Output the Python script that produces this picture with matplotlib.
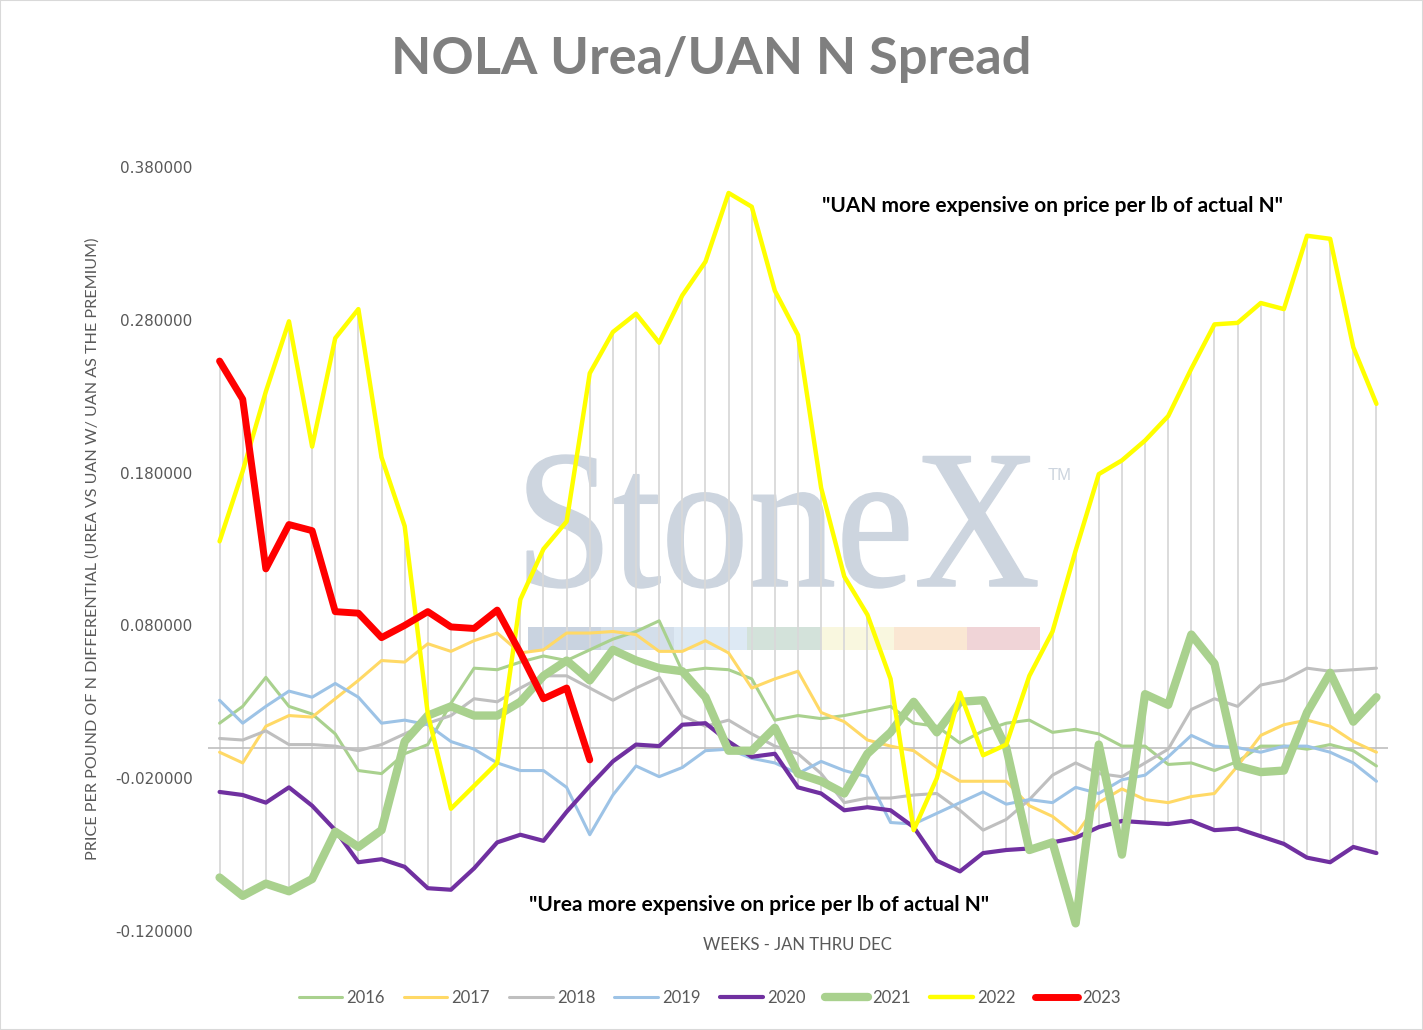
import numpy as np
import matplotlib
matplotlib.use("Agg")
import matplotlib.pyplot as plt
from matplotlib.textpath import TextPath
from matplotlib.patches import PathPatch, Rectangle
from matplotlib.font_manager import FontProperties
from matplotlib.transforms import Affine2D
from matplotlib.ticker import FixedLocator, FormatStrFormatter

# weekly N spread, $/lb
weeks = np.arange(51)

y2016 = [0.016, 0.027, 0.046, 0.027, 0.022, 0.009, -0.015, -0.017, -0.004, 0.002,
         0.029, 0.052, 0.051, 0.056, 0.060, 0.057, 0.064, 0.071, 0.076, 0.083,
         0.050, 0.052, 0.051, 0.045, 0.018, 0.021, 0.019, 0.021, 0.024, 0.027,
         0.016, 0.014, 0.003, 0.011, 0.016, 0.018, 0.010, 0.012, 0.009, 0.001,
         0.001, -0.011, -0.010, -0.015, -0.009, 0.001, 0.001, -0.001, 0.002, -0.002,
         -0.012]
y2017 = [-0.003, -0.010, 0.014, 0.021, 0.020, 0.032, 0.044, 0.057, 0.056, 0.068,
         0.063, 0.070, 0.075, 0.062, 0.064, 0.075, 0.075, 0.076, 0.074, 0.063,
         0.063, 0.070, 0.062, 0.039, 0.045, 0.050, 0.023, 0.017, 0.005, 0.001,
         -0.002, -0.013, -0.022, -0.022, -0.022, -0.038, -0.045, -0.057, -0.036, -0.027,
         -0.034, -0.036, -0.032, -0.030, -0.012, 0.008, 0.015, 0.018, 0.014, 0.004,
         -0.003]
y2018 = [0.006, 0.005, 0.011, 0.002, 0.002, 0.001, -0.002, 0.002, 0.009, 0.016,
         0.021, 0.032, 0.030, 0.039, 0.047, 0.047, 0.039, 0.031, 0.039, 0.046,
         0.021, 0.014, 0.018, 0.009, 0.001, -0.004, -0.017, -0.036, -0.033, -0.033,
         -0.031, -0.030, -0.041, -0.054, -0.047, -0.034, -0.018, -0.010, -0.017, -0.019,
         -0.010, -0.001, 0.025, 0.032, 0.027, 0.041, 0.044, 0.052, 0.050, 0.051,
         0.052]
y2019 = [0.031, 0.016, 0.027, 0.037, 0.033, 0.042, 0.033, 0.016, 0.018, 0.015,
         0.004, -0.001, -0.010, -0.015, -0.015, -0.026, -0.057, -0.031, -0.012, -0.019,
         -0.013, -0.002, -0.001, -0.007, -0.010, -0.017, -0.009, -0.015, -0.019, -0.049,
         -0.050, -0.043, -0.036, -0.029, -0.037, -0.034, -0.036, -0.026, -0.030, -0.021,
         -0.018, -0.006, 0.008, 0.001, 0.000, -0.003, 0.001, 0.001, -0.003, -0.010,
         -0.022]
y2020 = [-0.029, -0.031, -0.036, -0.026, -0.038, -0.054, -0.075, -0.073, -0.078, -0.092,
         -0.093, -0.079, -0.062, -0.057, -0.061, -0.042, -0.025, -0.009, 0.002, 0.001,
         0.015, 0.016, 0.004, -0.006, -0.004, -0.026, -0.030, -0.041, -0.039, -0.041,
         -0.052, -0.074, -0.081, -0.069, -0.067, -0.066, -0.062, -0.059, -0.052, -0.048,
         -0.049, -0.050, -0.048, -0.054, -0.053, -0.058, -0.063, -0.072, -0.075, -0.065,
         -0.069]
y2021 = [-0.085, -0.097, -0.089, -0.094, -0.086, -0.055, -0.065, -0.054, 0.004, 0.021,
         0.027, 0.021, 0.021, 0.030, 0.047, 0.057, 0.044, 0.064, 0.057, 0.052,
         0.050, 0.033, -0.002, -0.002, 0.013, -0.017, -0.022, -0.030, -0.004, 0.010,
         0.030, 0.010, 0.030, 0.031, 0.000, -0.067, -0.062, -0.115, 0.002, -0.070,
         0.035, 0.028, 0.074, 0.055, -0.012, -0.016, -0.015, 0.023, 0.049, 0.017,
         0.033]
y2022 = [0.135, 0.181, 0.233, 0.279, 0.197, 0.268, 0.287, 0.190, 0.145, 0.022,
         -0.040, -0.025, -0.010, 0.097, 0.130, 0.148, 0.245, 0.272, 0.284, 0.265,
         0.296, 0.318, 0.363, 0.354, 0.299, 0.270, 0.170, 0.112, 0.087, 0.045,
         -0.054, -0.020, 0.036, -0.005, 0.002, 0.047, 0.076, 0.129, 0.179, 0.188,
         0.201, 0.217, 0.248, 0.277, 0.278, 0.291, 0.287, 0.335, 0.333, 0.262,
         0.225]
# 2023 only runs to week 17
y2023 = [0.253, 0.228, 0.117, 0.146, 0.142, 0.089, 0.088, 0.072, 0.080, 0.089,
         0.079, 0.078, 0.090, 0.062, 0.032, 0.039, -0.008]

years = ["2016", "2017", "2018", "2019", "2020", "2021", "2022", "2023"]
colors = ["#a9d18e", "#ffd966", "#bfbfbf", "#9dc3e6", "#7030a0", "#a9d18e", "#ffff00", "#ff0000"]
widths = [2.2, 2.2, 2.2, 2.2, 3.0, 6.0, 3.2, 5.0]

yticks = [-0.12, -0.02, 0.08, 0.18, 0.28, 0.38]

W, H = 1423, 1030
fig = plt.figure(figsize=(W / 100, H / 100), dpi=100)
ax = fig.add_axes([208 / W, 1 - 931 / H, 1180 / W, 764 / H])
ax.patch.set_visible(False)

series = [y2016, y2017, y2018, y2019, y2020, y2021, y2022, y2023]
padded = np.full((len(series), len(weeks)), np.nan)
for k, s in enumerate(series):
    padded[k, :len(s)] = s

# high-low lines (Excel style)
ax.vlines(weeks, np.nanmin(padded, axis=0), np.nanmax(padded, axis=0),
          color="#d9d9d9", lw=1.3, zorder=1)
ax.axhline(0, color="#bfbfbf", lw=1.2, zorder=1)

for k, s in enumerate(series):
    ax.plot(weeks[:len(s)], s, color=colors[k], lw=widths[k], label=years[k],
            solid_joinstyle="round", solid_capstyle="round", zorder=3 + k)

ax.set_xlim(-0.5, 50.5)
ax.set_ylim(-0.12, 0.38)
ax.set_xticks([])
ax.yaxis.set_major_locator(FixedLocator(yticks))
ax.yaxis.set_major_formatter(FormatStrFormatter("%.6f"))
ax.tick_params(axis="y", length=0, pad=11, labelsize=11, labelcolor="#595959")
for sp in ax.spines.values():
    sp.set_visible(False)

# StoneX watermark
tp = TextPath((0, 0), "StoneX", size=100, prop=FontProperties(family="Liberation Serif"))
ext = tp.get_extents()
x0, x1, ytop, ybot = 527, 1037, 455, 588
tr = (Affine2D().translate(-ext.x0, -ext.y0)
      .scale((x1 - x0) / ext.width, (ybot - ytop) / ext.height)
      .translate(x0, H - ybot).scale(1 / W, 1 / H) + fig.transFigure)
ax.add_patch(PathPatch(tp, transform=tr, fc="#cdd5df", ec="#cdd5df", lw=1.0, zorder=0.5))
fig.text(1048 / W, 1 - 475 / H, "TM", fontsize=12, color="#cdd5df",
         family="Liberation Sans", va="center", ha="left", zorder=-1)
strip = ["#c9d3e0", "#d3deea", "#dde9f4", "#d3e2da", "#f9f7df", "#fae7d3", "#f0d4d7"]
seg = (1040 - 528) / len(strip)
for k, c in enumerate(strip):
    ax.add_patch(Rectangle(((528 + k * seg) / W, 1 - 650 / H), seg / W, 23 / H,
                           transform=fig.transFigure, fc=c, ec="none", zorder=0.5))

fig.text(711 / W, 1 - 74 / H, "NOLA Urea/UAN N Spread", fontsize=37.7, fontweight="bold",
         color="#7f7f7f", family="Lato", ha="center", va="baseline")
fig.text(1052 / W, 1 - 206 / H, '"UAN more expensive on price per lb of actual N"',
         fontsize=15, fontweight="bold", color="black", family="Lato",
         ha="center", va="center")
fig.text(759 / W, 1 - 905 / H, '"Urea more expensive on price per lb of actual N"',
         fontsize=15, fontweight="bold", color="black", family="Lato",
         ha="center", va="center")
fig.text(93 / W, 1 - 549 / H,
         "PRICE PER POUND OF N DIFFERENTIAL (UREA VS UAN W/ UAN AS THE PREMIUM)",
         rotation=90, fontsize=11.6, color="#595959", family="Lato",
         ha="center", va="center")
fig.text(797 / W, 1 - 945 / H, "WEEKS - JAN THRU DEC", fontsize=12, color="#595959",
         family="Lato", ha="center", va="center")

leg = fig.legend(loc="center", bbox_to_anchor=(710 / W, 1 - 998 / H), ncol=8,
                 frameon=False, handlelength=2.6, handletextpad=0.25, columnspacing=1.15,
                 prop=FontProperties(family="Lato", size=12))
for t in leg.get_texts():
    t.set_color("#595959")

fig.patches.append(Rectangle((0, 0), 1, 1, transform=fig.transFigure, fill=False,
                             ec="#d9d9d9", lw=1.5))

fig.savefig("out.png", dpi=100)
